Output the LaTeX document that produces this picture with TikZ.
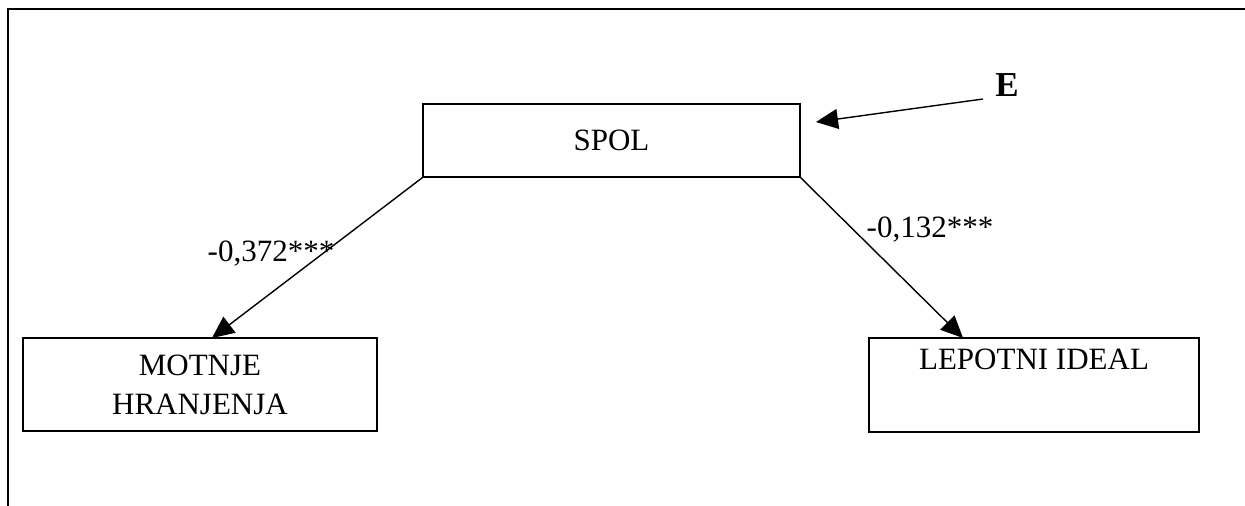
\documentclass[tikz,border=0pt]{standalone}
\usepackage{fontspec}
\setmainfont{Liberation Serif}
\usetikzlibrary{arrows.meta,calc}
\begin{document}
\begin{tikzpicture}[x=1pt,y=-1pt,
  boxnode/.style={draw,line width=1.4pt,inner sep=0pt,align=center,font=\fontsize{31}{39}\selectfont},
  conn/.style={line width=1.4pt,-{Triangle[length=22pt,width=20pt]}},
  lbl/.style={font=\fontsize{31}{36}\selectfont,inner sep=0pt}]
\useasboundingbox (0,0) rectangle (1245,506);
\draw[line width=2.2pt] (8,506) -- (8,9) -- (1245,9);
\node[boxnode,minimum width=377pt,minimum height=73pt] (spol) at (611.5,140.5) {SPOL};
\node[boxnode,minimum width=354pt,minimum height=93pt] (mh) at (200,384.5) {MOTNJE\\HRANJENJA};
\node[boxnode,minimum width=330pt,minimum height=94pt] (li) at (1034,385) {LEPOTNI IDEAL\\\strut};
\coordinate (mt) at (212,338);
\coordinate (lt) at (963,338);
\node[font=\bfseries\fontsize{35}{40}\selectfont,inner sep=0pt] (e) at (1007,85) {E};
\coordinate (es) at (983,99);
\coordinate (et) at (816,122);
\draw[conn] (spol.south west) -- (mt);
\draw[conn] (spol.south east) -- (lt);
\draw[conn] (es) -- (et);
\node[lbl,anchor=base] (l1) at (271,261) {-0,372***};
\node[lbl,anchor=base] (l2) at (930,237) {-0,132***};
\end{tikzpicture}
\end{document}
